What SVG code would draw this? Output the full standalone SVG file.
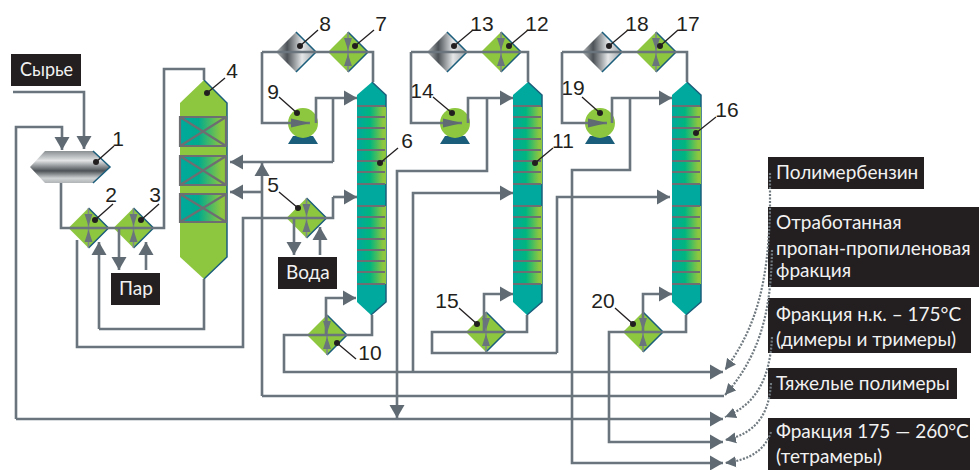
<svg xmlns="http://www.w3.org/2000/svg" width="979" height="470" viewBox="0 0 979 470">
<style>
text{font-family:"Lato","Noto Sans","Liberation Sans",sans-serif}
.n{font-family:"Liberation Sans Narrow","Liberation Sans",sans-serif;font-size:21px;fill:#231f20;text-anchor:middle}
.l{font-size:19px;fill:#f2f2f2}
.box{fill:#231f20}
.lead{stroke:#231f20;stroke-width:1.3;fill:none}
.dot{fill:#231f20}
.c path{fill:none;stroke:#6a747c;stroke-width:2.6}
.c path.a{marker-end:url(#arr)}
.c path.p{marker-end:url(#pa)}
.d path{fill:none;stroke:#6f797f;stroke-width:2.2;stroke-dasharray:2 1.5;marker-end:url(#sm)}
.tray{stroke:#6d6e71;stroke-width:2.2}
.edge{fill:none;stroke:#1b5e7b;stroke-width:1.5}
.x{fill:none;stroke:#6d6e71;stroke-width:2.2}
</style>
<defs>
<linearGradient id="gh"><stop offset="0" stop-color="#00a99d"/><stop offset=".4" stop-color="#00ab8e"/><stop offset=".9" stop-color="#8dc63f"/></linearGradient>
<linearGradient id="gt"><stop offset="0" stop-color="#00a99d"/><stop offset=".45" stop-color="#00b57f"/><stop offset=".9" stop-color="#8dc63f"/></linearGradient>
<linearGradient id="gd"><stop offset="0" stop-color="#b8bcbe"/><stop offset=".28" stop-color="#4c5257"/><stop offset=".65" stop-color="#e4e6e7"/><stop offset="1" stop-color="#9ea3a6"/></linearGradient>
<linearGradient id="gf" x1="0" y1="0" x2="0" y2="1"><stop offset="0" stop-color="#8a8f92"/><stop offset=".3" stop-color="#e2e4e5"/><stop offset=".62" stop-color="#4c5257"/><stop offset=".85" stop-color="#d0d3d4"/><stop offset="1" stop-color="#b0b4b6"/></linearGradient>
<marker id="arr" markerUnits="userSpaceOnUse" markerWidth="14" markerHeight="16" refX="13" refY="8" orient="auto"><path d="M0,0.5L13,8L0,15.5z" fill="#5f6a72"/></marker>
<marker id="pa" markerUnits="userSpaceOnUse" markerWidth="20" markerHeight="10" refX="19" refY="5" orient="auto"><path d="M0,0.5L19,5L0,9.5z" fill="#5f6a72"/></marker>
<marker id="sm" markerUnits="userSpaceOnUse" markerWidth="12" markerHeight="12" refX="11" refY="6" orient="auto"><path d="M0,0.5L11,6L0,11.5z" fill="#5f6a72"/></marker>
<g id="hx">
<path d="M0,-20L20,0L0,20L-20,0z" fill="#8dc63f"/>
<path d="M0,-20L20,0L0,20" class="edge"/>
<path d="M0,-20V20" stroke="#7d868c" stroke-width="1.6"/>
<path d="M-4,-14L4,-14L0,-2zM-4,14L4,14L0,2z" fill="#6a747c"/>
</g>
<g id="cool">
<path d="M0,-20L20,0L0,20L-20,0z" fill="url(#gd)"/>
<path d="M0,-20L20,0L0,20" class="edge"/>
</g>
<g id="pump">
<path d="M-10,13H10L15,21H-15z" fill="#1b5e7b"/>
<circle r="15" fill="#8dc63f"/>
</g>
<g id="col">
<path d="M0,82L14,95V302L-1,315L-15,302V95z" fill="#00a99d"/>
<path d="M0,82L14,95V302L-1,315" class="edge"/>
<rect x="-15" y="107" width="29" height="77" fill="url(#gt)"/>
<rect x="-15" y="206" width="29" height="78" fill="url(#gt)"/>
<path class="tray" d="M-15,106H13M-15,117H13M-15,128H13M-15,139H13M-15,150H13M-15,161H13M-15,172H13M-15,184H13M-15,206H13M-15,217H13M-15,228H13M-15,239H13M-15,250H13M-15,261H13M-15,272H13M-15,284H13"/>
</g>
</defs>
<rect width="979" height="470" fill="#fff"/>

<g id="node-1">
<path d="M30,167L45,151H93L110,167L93,183H45z" fill="url(#gf)"/>
<path d="M93,151L110,167L93,183" class="edge"/>
<circle class="dot" cx="96" cy="162" r="3"/><path class="lead" d="M96,162L114,146"/>
<text class="n" x="118" y="146">1</text>
</g>
<g id="node-2"><use href="#hx" x="88.5" y="228"/><circle class="dot" cx="95" cy="220" r="3"/><path class="lead" d="M95,220L113,204"/><text class="n" x="111" y="202">2</text></g>
<g id="node-3"><use href="#hx" x="133.5" y="228"/><circle class="dot" cx="141" cy="220" r="3"/><path class="lead" d="M141,220L159,204"/><text class="n" x="155" y="202">3</text></g>
<g id="node-4">
<path d="M204,80L227,103V257L204,279L180,257V103z" fill="#8dc63f"/>
<path d="M204,80L227,103V257L204,279" class="edge"/>
<rect x="180" y="117" width="46" height="29" fill="url(#gh)"/>
<rect x="180" y="156" width="46" height="29" fill="url(#gh)"/>
<rect x="180" y="194" width="46" height="28" fill="url(#gh)"/>
<path class="x" d="M180,117H226V146H180zM180,117L226,146M226,117L180,146M180,156H226V185H180zM180,156L226,185M226,156L180,185M180,194H226V222H180zM180,194L226,222M226,194L180,222"/>
<circle class="dot" cx="207" cy="93" r="3"/><path class="lead" d="M207,93L225,78"/>
<text class="n" x="232" y="78">4</text>
</g>
<g id="node-5"><use href="#hx" x="306.5" y="218"/><circle class="dot" cx="298" cy="208" r="3"/><path class="lead" d="M298,208L279,192"/><text class="n" x="273" y="192">5</text></g>
<g id="node-6"><use href="#col" x="372"/><circle class="dot" cx="380" cy="163" r="3"/><path class="lead" d="M380,163L398,148"/><text class="n" x="407" y="148">6</text></g>
<g id="node-7"><use href="#hx" x="348" y="52"/><circle class="dot" cx="355" cy="46" r="3"/><path class="lead" d="M355,46L374,30"/><text class="n" x="381" y="31">7</text></g>
<g id="node-8"><use href="#cool" x="296" y="52"/><circle class="dot" cx="300" cy="46" r="3"/><path class="lead" d="M300,46L318,30"/><text class="n" x="325" y="31">8</text></g>
<g id="node-9"><use href="#pump" x="303" y="123"/><circle class="dot" cx="297" cy="113" r="3"/><path class="lead" d="M297,113L279,97"/><text class="n" x="273" y="99">9</text></g>
<g id="node-10"><use href="#hx" x="327" y="335"/><circle class="dot" cx="337" cy="343" r="3"/><path class="lead" d="M337,343L356,359"/><text class="n" x="370" y="360">10</text></g>
<g id="node-11"><use href="#col" x="528"/><circle class="dot" cx="535" cy="163" r="3"/><path class="lead" d="M535,163L553,148"/><text class="n" x="563" y="148">11</text></g>
<g id="node-12"><use href="#hx" x="501" y="52"/><circle class="dot" cx="509" cy="46" r="3"/><path class="lead" d="M509,46L528,30"/><text class="n" x="537" y="31">12</text></g>
<g id="node-13"><use href="#cool" x="447" y="52"/><circle class="dot" cx="454" cy="46" r="3"/><path class="lead" d="M454,46L473,30"/><text class="n" x="482" y="31">13</text></g>
<g id="node-14"><use href="#pump" x="455" y="123"/><circle class="dot" cx="452" cy="113" r="3"/><path class="lead" d="M452,113L433,97"/><text class="n" x="422" y="98">14</text></g>
<g id="node-15"><use href="#hx" x="486" y="332"/><circle class="dot" cx="477" cy="324" r="3"/><path class="lead" d="M477,324L459,308"/><text class="n" x="447" y="308">15</text></g>
<g id="node-16"><use href="#col" x="687"/><circle class="dot" cx="696" cy="133" r="3"/><path class="lead" d="M696,133L716,117"/><text class="n" x="727" y="117">16</text></g>
<g id="node-17"><use href="#hx" x="656" y="52"/><circle class="dot" cx="660" cy="46" r="3"/><path class="lead" d="M660,46L678,30"/><text class="n" x="688" y="31">17</text></g>
<g id="node-18"><use href="#cool" x="602" y="52"/><circle class="dot" cx="609" cy="46" r="3"/><path class="lead" d="M609,46L628,30"/><text class="n" x="637" y="31">18</text></g>
<g id="node-19"><use href="#pump" x="600" y="123"/><circle class="dot" cx="600" cy="113" r="3"/><path class="lead" d="M600,113L582,97"/><text class="n" x="573" y="95">19</text></g>
<g id="node-20"><use href="#hx" x="643" y="332"/><circle class="dot" cx="633" cy="324" r="3"/><path class="lead" d="M633,324L615,308"/><text class="n" x="603" y="308">20</text></g>

<g id="connectors" class="c">
<path class="a" d="M13,92H84V149"/>
<path class="a" d="M16,419V127H62V150"/>
<path class="a" d="M16,419H723"/>
<path d="M61,183V228H164V69H204V80"/>
<path d="M204,279V329H99"/>
<path class="a" d="M99,329V242"/>
<path d="M77,240V347H243V218H333V197"/>
<path class="a" d="M333,197H357"/>
<path class="a" d="M119,228V270"/>
<path class="a" d="M146,270V242"/>
<path class="a" d="M294,218V255"/>
<path class="a" d="M320,255V227"/>
<path class="a" d="M262,396V163"/>
<path d="M262,396H724"/>
<path class="a" d="M262,192H230"/>
<path d="M333,98V162"/>
<path class="a" d="M333,162H230"/>
<path class="p" d="M262,52V123H310"/>
<path d="M262,52H373V82"/>
<path class="a" d="M316,123V98H357"/>
<path class="a" d="M372,315V335H284V372H723"/>
<path class="a" d="M326,335V298H356"/>
<path class="p" d="M411,52V123H462"/>
<path d="M411,52H528V82"/>
<path class="a" d="M468,123V98H513"/>
<path class="a" d="M487,98V171H397V418"/>
<path class="a" d="M413,372V193H513"/>
<path d="M527,315V332H432V353H557"/>
<path class="a" d="M557,353V197H670"/>
<path class="a" d="M484,332V294H513"/>
<path class="p" d="M562,52V123H607"/>
<path d="M562,52H687V82"/>
<path class="a" d="M612,123V98H672"/>
<path class="a" d="M630,98V170H572V463H723"/>
<path class="a" d="M686,315V332H609V442H723"/>
<path class="a" d="M643,332V294H672"/>
</g>

<g id="label-syrye"><rect class="box" x="11" y="54" width="70" height="32"/><text class="l" x="20" y="76" textLength="53" lengthAdjust="spacingAndGlyphs">Сырье</text></g>
<g id="label-par"><rect class="box" x="111" y="273" width="49" height="32"/><text class="l" x="119" y="295">Пар</text></g>
<g id="label-voda"><rect class="box" x="278" y="257" width="59" height="32"/><text class="l" x="286" y="279">Вода</text></g>
<g id="label-polymer"><rect class="box" x="768" y="157" width="156" height="32"/><text class="l" x="776" y="179">Полимербензин</text></g>
<g id="label-spent"><rect class="box" x="768" y="207" width="211" height="80"/><text class="l" x="776" y="229">Отработанная</text><text class="l" x="776" y="255">пропан-пропиленовая</text><text class="l" x="776" y="277">фракция</text></g>
<g id="label-nk"><rect class="box" x="768" y="298" width="203" height="55"/><text class="l" x="776" y="321">Фракция н.к. – 175°C</text><text class="l" x="776" y="346">(димеры и тримеры)</text></g>
<g id="label-heavy"><rect class="box" x="768" y="368" width="189" height="31"/><text class="l" x="776" y="390">Тяжелые полимеры</text></g>
<g id="label-tetra"><rect class="box" x="768" y="418" width="202" height="52"/><text class="l" x="776" y="438">Фракция 175 — 260°C</text><text class="l" x="776" y="463">(тетрамеры)</text></g>

<g id="dotted" class="d">
<path d="M770,173V210C768,280 758,325 725,370"/>
<path d="M772,250C771,300 765,350 725,395"/>
<path d="M772,337C770,380 755,405 725,417"/>
<path d="M771,383C769,420 750,435 725,440"/>
<path d="M771,432C765,450 750,460 725,463"/>
</g>
</svg>
